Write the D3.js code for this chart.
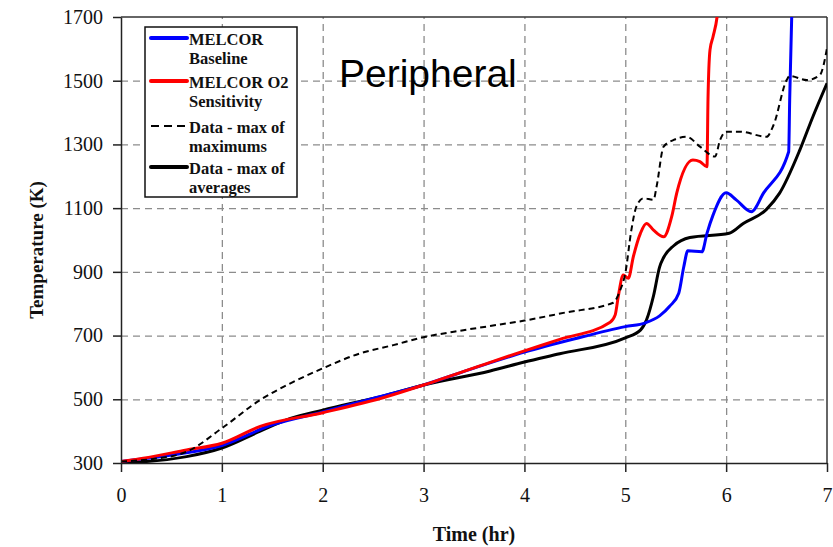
<!DOCTYPE html>
<html>
<head>
<meta charset="utf-8">
<script src="https://cdn.jsdelivr.net/npm/d3@7"></script>
<style>
  body { margin: 0; background: #fff; }
  .grid line { stroke: #8c8c8c; stroke-width: 1.3; stroke-dasharray: 7,5; }
  .grid path { display: none; }
  .axis path, .axis line { stroke: #222; stroke-width: 1.5; }
  .axis text { font-family: "Liberation Serif", serif; font-size: 20px; fill: #111; }
  .title { font-family: "Liberation Serif", serif; font-weight: bold; fill: #111; }
  .legend text { font-family: "Liberation Serif", serif; font-weight: bold; font-size: 16.5px; fill: #111; }
</style>
</head>
<body>
<div id="chart"></div>
<script>
// values (time in hr, temperature in K)
var baselineT = [0, 0.5, 1.0, 1.5, 2.0, 2.5, 3.0, 3.5, 4.0, 4.5, 5.0, 5.2, 5.34, 5.44, 5.53, 5.58, 5.62, 5.76, 5.81, 5.87, 6.0, 6.1, 6.25, 6.37, 6.62, 6.63, 6.65, 6.66];
var baselineK = [305, 325, 355, 420, 460, 503, 545, 598, 648, 690, 728, 740, 762, 792, 833, 916, 966, 963, 1021, 1078, 1148, 1126, 1089, 1147, 1277, 1439, 1700, 1760];

var o2T = [0, 0.22, 0.65, 1.0, 1.38, 2.0, 2.63, 3.0, 3.66, 4.0, 4.35, 4.85, 4.9, 4.93, 4.98, 5.03, 5.08, 5.15, 5.21, 5.28, 5.38, 5.46, 5.51, 5.67, 5.74, 5.81, 5.82, 5.84, 5.87, 5.91, 5.93];
var o2K = [305, 315, 341, 362, 415, 458, 508, 545, 616, 652, 688, 742, 765, 822, 890, 880, 948, 1021, 1052, 1031, 1010, 1073, 1147, 1251, 1246, 1230, 1440, 1597, 1638, 1700, 1760];

var maxMaxT = [0, 0.3, 0.65, 1.0, 1.38, 1.68, 2.0, 2.37, 2.7, 3.0, 3.3, 3.66, 4.0, 4.4, 4.88, 4.95, 5.0, 5.06, 5.11, 5.18, 5.28, 5.31, 5.38, 5.48, 5.61, 5.74, 5.89, 5.94, 6.0, 6.14, 6.4, 6.47, 6.6, 6.63, 6.8, 6.93, 7.0];
var maxMaxK = [305, 312, 335, 409, 498, 550, 597, 644, 670, 695, 712, 730, 747, 772, 803, 843, 895, 1031, 1105, 1131, 1126, 1167, 1293, 1314, 1324, 1293, 1262, 1314, 1340, 1340, 1324, 1361, 1502, 1515, 1502, 1518, 1602];

var maxAvgT = [0, 0.22, 0.65, 1.0, 1.38, 1.68, 2.0, 2.63, 3.0, 3.66, 4.0, 4.35, 5.0, 5.15, 5.21, 5.28, 5.34, 5.38, 5.48, 5.64, 6.03, 6.17, 6.4, 6.53, 6.73, 6.86, 7.0];
var maxAvgK = [302, 304, 320, 347, 400, 440, 466, 513, 545, 589, 617, 643, 693, 717, 749, 825, 915, 945, 982, 1008, 1021, 1052, 1096, 1147, 1282, 1387, 1492];

var xTicks = [0, 1, 2, 3, 4, 5, 6, 7];
var yTicks = [300, 500, 700, 900, 1100, 1300, 1500, 1700];

var legendLabels = [["MELCOR", "Baseline"], ["MELCOR O2", "Sensitivity"], ["Data - max of", "maximums"], ["Data - max of", "averages"]];

var width = 833, height = 547;
var margin = {top: 17, right: 6, bottom: 84, left: 121};
var plotW = width - margin.left - margin.right;
var plotH = height - margin.top - margin.bottom;

var svg = d3.select("#chart").append("svg")
    .attr("width", width)
    .attr("height", height);

var g = svg.append("g")
    .attr("transform", "translate(" + margin.left + "," + margin.top + ")");

var x = d3.scaleLinear().domain([0, 7]).range([0, plotW]);
var y = d3.scaleLinear().domain([300, 1700]).range([plotH, 0]);

// dashed grid
g.append("g")
    .attr("class", "grid")
    .attr("transform", "translate(0," + plotH + ")")
    .call(d3.axisBottom(x).tickValues(xTicks.slice(1, -1)).tickSize(-plotH).tickFormat(""));
g.append("g")
    .attr("class", "grid")
    .call(d3.axisLeft(y).tickValues(yTicks.slice(1, -1)).tickSize(-plotW).tickFormat(""));

// frame: top and right
g.append("line").attr("x1", 0).attr("x2", plotW).attr("y1", 0).attr("y2", 0)
    .attr("stroke", "#333").attr("stroke-width", 1.5);
g.append("line").attr("x1", plotW).attr("x2", plotW).attr("y1", 0).attr("y2", plotH)
    .attr("stroke", "#333").attr("stroke-width", 1.5);

g.append("defs").append("clipPath").attr("id", "clip")
    .append("rect").attr("width", plotW).attr("height", plotH);

var line = d3.line()
    .x(function(d) { return x(d[0]); })
    .y(function(d) { return y(d[1]); })
    .curve(d3.curveMonotoneX);

var avgStyle = {t: maxAvgT, k: maxAvgK, color: "#000", width: 3, dash: null};
var baseStyle = {t: baselineT, k: baselineK, color: "#0000ff", width: 3, dash: null};
var o2Style = {t: o2T, k: o2K, color: "#ff0000", width: 3, dash: null};
var maxStyle = {t: maxMaxT, k: maxMaxK, color: "#000", width: 2, dash: "6,4"};

var curves = g.append("g").attr("clip-path", "url(#clip)");
[avgStyle, baseStyle, o2Style, maxStyle].forEach(function(s) {
    curves.append("path")
        .datum(d3.zip(s.t, s.k))
        .attr("fill", "none")
        .attr("stroke", s.color)
        .attr("stroke-width", s.width)
        .attr("stroke-dasharray", s.dash)
        .attr("d", line);
});

// axes
g.append("g")
    .attr("class", "axis")
    .attr("transform", "translate(0," + plotH + ")")
    .call(d3.axisBottom(x).tickValues(xTicks).tickFormat(d3.format("d"))
        .tickSize(9).tickPadding(16).tickSizeOuter(0));
g.append("g")
    .attr("class", "axis")
    .call(d3.axisLeft(y).tickValues(yTicks).tickFormat(d3.format("d"))
        .tickSize(8).tickPadding(10).tickSizeOuter(0));

svg.append("text")
    .attr("class", "title")
    .attr("x", margin.left + plotW / 2)
    .attr("y", 541)
    .attr("text-anchor", "middle")
    .style("font-size", "20px")
    .text("Time (hr)");

svg.append("text")
    .attr("class", "title")
    .attr("transform", "translate(43,250) rotate(-90)")
    .attr("text-anchor", "middle")
    .style("font-size", "19px")
    .text("Temperature (K)");

svg.append("text")
    .attr("x", 339)
    .attr("y", 87)
    .style("font-family", "'Liberation Sans', Arial, sans-serif")
    .style("font-size", "39px")
    .attr("fill", "#000")
    .text("Peripheral");

// legend
var legend = svg.append("g").attr("class", "legend");
legend.append("rect")
    .attr("x", 145).attr("y", 27)
    .attr("width", 152).attr("height", 170)
    .attr("fill", "#fff")
    .attr("stroke", "#111")
    .attr("stroke-width", 1.5);

var legendY = [38, 81, 126, 167];
var legendStyle = [baseStyle, o2Style, maxStyle, avgStyle];
legendLabels.forEach(function(lab, i) {
    var s = legendStyle[i];
    legend.append("line")
        .attr("x1", 151).attr("x2", 187)
        .attr("y1", legendY[i]).attr("y2", legendY[i])
        .attr("stroke", s.color)
        .attr("stroke-width", s.dash ? 2 : 4)
        .attr("stroke-linecap", s.dash ? "butt" : "round")
        .attr("stroke-dasharray", s.dash ? "8,5" : null);
    legend.append("text").attr("x", 189).attr("y", legendY[i] + 7).text(lab[0]);
    legend.append("text").attr("x", 189).attr("y", legendY[i] + 26).text(lab[1]);
});
</script>
</body>
</html>
